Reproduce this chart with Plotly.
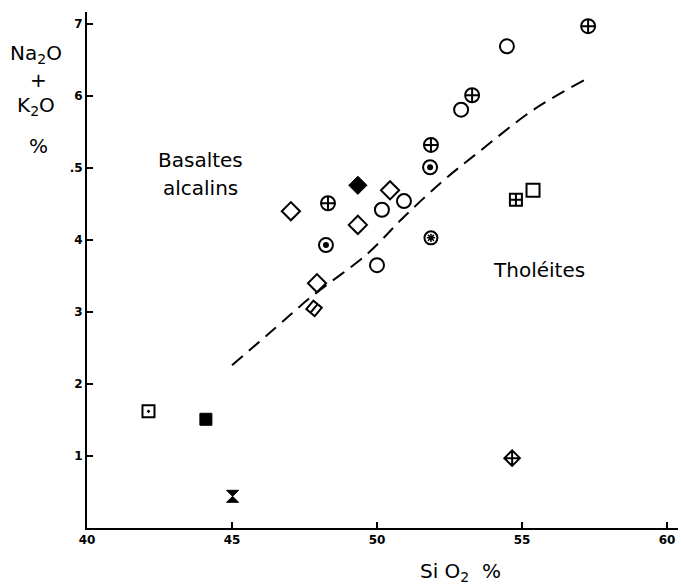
import plotly.graph_objects as go

# ---- data ----
circle_cross_x = [57.28, 53.28, 51.86, 48.31]
circle_cross_y = [6.97, 6.01, 5.32, 4.51]
circle_open_x = [54.48, 52.90, 50.93, 50.17, 50.00]
circle_open_y = [6.69, 5.81, 4.54, 4.42, 3.65]
bullseye_x = [51.83, 48.24]
bullseye_y = [5.01, 3.93]
diamond_open_x = [50.45, 47.03, 49.34, 47.93]
diamond_open_y = [4.69, 4.40, 4.21, 3.40]
diamond_filled_x = [49.34]
diamond_filled_y = [4.76]
diamond_striped_x = [47.83]
diamond_striped_y = [3.05]
circle_dotted_x = [51.86]
circle_dotted_y = [4.03]
square_cross_x = [54.79]
square_cross_y = [4.56]
square_open_x = [55.38]
square_open_y = [4.69]
diamond_cross_x = [54.66]
diamond_cross_y = [0.97]
square_dot_x = [42.12]
square_dot_y = [1.62]
square_filled_x = [44.10]
square_filled_y = [1.51]
hourglass_x = [45.02]
hourglass_y = [0.44]

boundary_x = [45.0, 46.5, 47.7, 49.7, 50.9, 52.3, 53.5, 55.4, 57.15]
boundary_y = [2.26, 2.78, 3.20, 3.82, 4.31, 4.83, 5.22, 5.81, 6.22]

x_tickvals = [40, 45, 50, 55, 60]
x_ticktext = ["40", "45", "50", "55", "60"]
y_tickvals = [1, 2, 3, 4, 5, 6, 7]
y_ticktext = ["1", "2", "3", "4", ".5", "6", "7"]

# ---- layout geometry ----
W, H = 681, 588
L, R, T, B = 87, 3, 12, 60
PW, PH = W - L - R, H - T - B
FONT = "DejaVu Sans"
INK = "black"


def px(xp):
    return (xp - L) / PW


def py(yp):
    return 1 - (yp - T) / PH


fig = go.Figure()

fig.add_trace(go.Scatter(x=boundary_x, y=boundary_y, mode="lines",
                         line=dict(color=INK, width=2, dash="14px,8px", shape="spline"),
                         hoverinfo="skip", showlegend=False))


def add(xs, ys, symbol, size, lw=2, color=INK, angle=0):
    fig.add_trace(go.Scatter(x=xs, y=ys, mode="markers", showlegend=False,
                             marker=dict(symbol=symbol, size=size, color=color, angle=angle,
                                         line=dict(color=INK, width=lw))))


add(circle_cross_x, circle_cross_y, "circle-cross-open", 14)
add(circle_open_x, circle_open_y, "circle-open", 14)
add(bullseye_x, bullseye_y, "circle-open", 14)
add(bullseye_x, bullseye_y, "circle", 6, lw=0)
add(diamond_open_x, diamond_open_y, "diamond-open", 14)
add(diamond_filled_x, diamond_filled_y, "diamond", 14, lw=1)
add(diamond_striped_x, diamond_striped_y, "square-open", 11, angle=40)
add(diamond_striped_x, diamond_striped_y, "line-ew-open", 8, lw=2, angle=-50)
add(circle_dotted_x, circle_dotted_y, "circle-open", 13)
add(circle_dotted_x, circle_dotted_y, "asterisk-open", 7, lw=1.5)
add(square_cross_x, square_cross_y, "square-cross-open", 12)
add(square_open_x, square_open_y, "square-open", 13)
add(diamond_cross_x, diamond_cross_y, "diamond-cross-open", 12)
add(square_dot_x, square_dot_y, "square-open-dot", 12)
add(square_filled_x, square_filled_y, "square", 12, lw=1)
add(hourglass_x, hourglass_y, "hourglass", 12, lw=1)

axis_common = dict(showgrid=False, zeroline=False, showline=True, linecolor=INK,
                   linewidth=2, ticks="inside", ticklen=6, tickwidth=2, tickcolor=INK,
                   tickfont=dict(family=FONT, size=12, color=INK, weight="bold"))

fig.update_xaxes(range=[40, 40 + PW / 29.0], tickvals=x_tickvals, ticktext=x_ticktext,
                 **axis_common)
fig.update_yaxes(range=[0, PH / 72.0], tickvals=y_tickvals, ticktext=y_ticktext,
                 **axis_common)

ann_font = dict(family=FONT, size=20, color=INK)
annotations = [
    dict(x=px(200), y=py(160), text="Basaltes", font=ann_font),
    dict(x=px(200), y=py(188), text="alcalins", font=ann_font),
    dict(x=px(539), y=py(270), text="Tholéites", font=ann_font),
    dict(x=px(460), y=py(572), text="Si O<sub>2</sub>  %", font=dict(family=FONT, size=20, color=INK)),
    dict(x=px(36), y=py(54), text="Na<sub>2</sub>O", font=ann_font),
    dict(x=px(38), y=py(80), text="+", font=ann_font),
    dict(x=px(36), y=py(106), text="K<sub>2</sub>O", font=ann_font),
    dict(x=px(38), y=py(146), text="%", font=ann_font),
]
for a in annotations:
    a.update(xref="paper", yref="paper", showarrow=False, xanchor="center", yanchor="middle")

fig.update_layout(width=W, height=H, margin=dict(l=L, r=R, t=T, b=B),
                  paper_bgcolor="white", plot_bgcolor="white",
                  annotations=annotations, font=dict(family=FONT, color=INK))

fig.write_html("out.html", config={"displayModeBar": False},
               post_script="document.body.style.margin='0';")
